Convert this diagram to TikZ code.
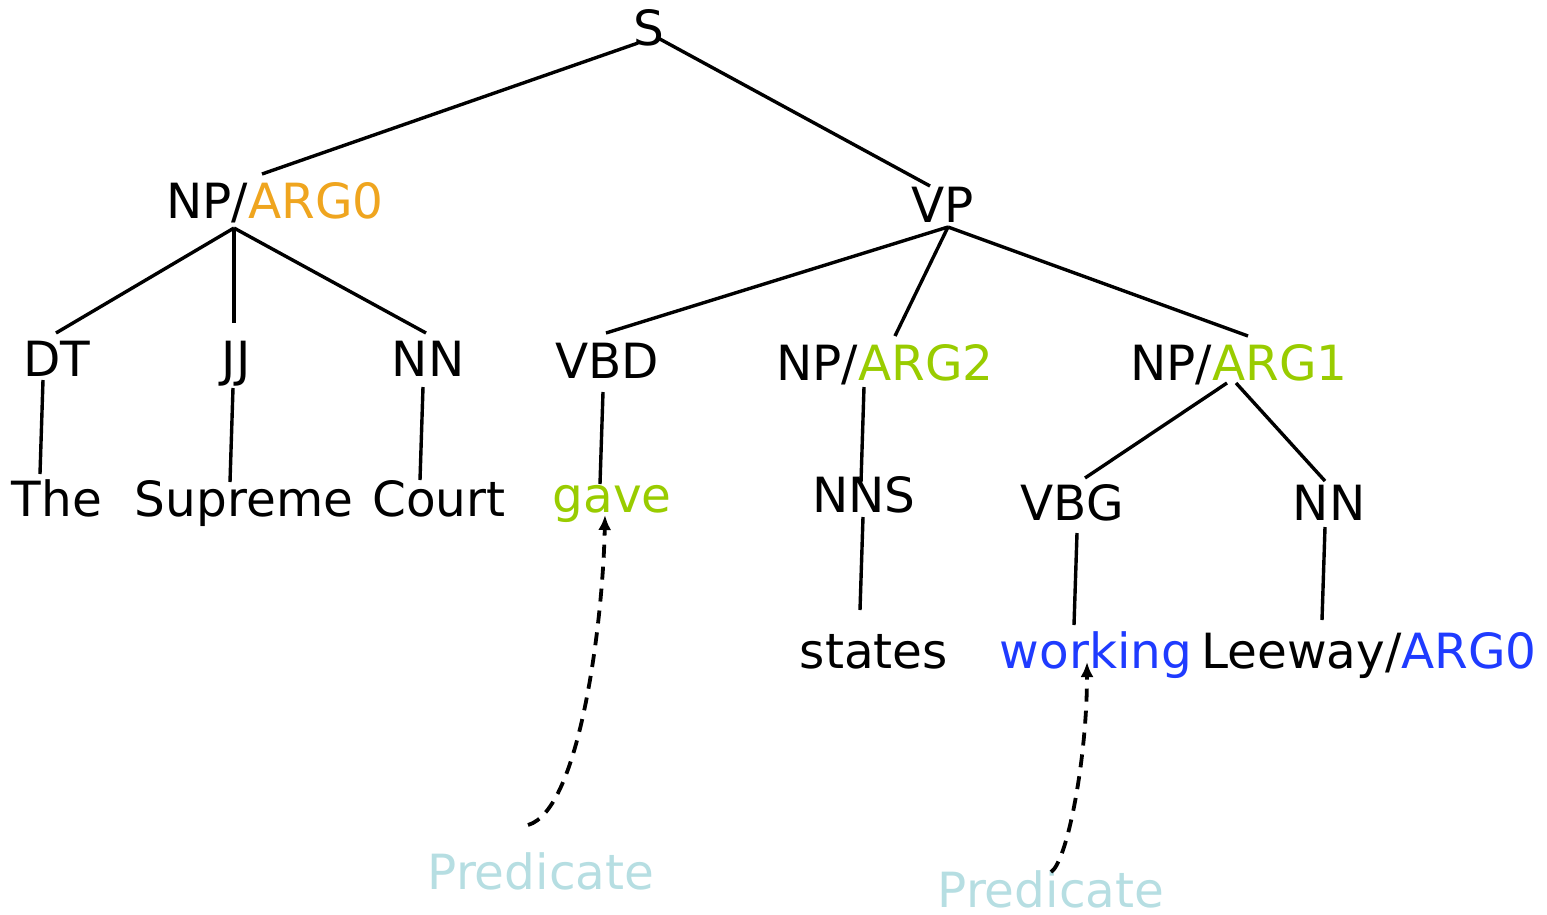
\documentclass[tikz,border=0pt]{standalone}
\usepackage{fontspec}
\setmainfont{DejaVu Sans}
\usetikzlibrary{calc}
\usetikzlibrary{arrows.meta}
\definecolor{argorange}{HTML}{EFA51F}
\definecolor{arggreen}{HTML}{99CC00}
\definecolor{argblue}{HTML}{1F3BFF}
\definecolor{predcyan}{HTML}{B6DEE2}
\begin{document}
\begin{tikzpicture}[x=1pt,y=-1pt,line width=3.4pt,
    every node/.style={font=\fontsize{48.5}{58}\selectfont,inner sep=0pt,anchor=base},
    predarrow/.style={line width=3.8pt,dash pattern=on 13pt off 9pt,-{Latex[length=15pt,width=13pt]}}]
    \useasboundingbox (0,0) rectangle (1547,914);
    \node (s) at (649,45) {S};
    \node (np0) at (275,218) {NP/\textcolor{argorange}{ARG0}};
    \node (vp) at (943,222) {VP};
    \node (dt) at (57,376) {DT};
    \node (jj) at (236,376) {JJ};
    \node (nn) at (428,376) {NN};
    \node (vbd) at (607,378) {VBD};
    \node (np2) at (885,380) {NP/\textcolor{arggreen}{ARG2}};
    \node (np1) at (1239,380) {NP/\textcolor{arggreen}{ARG1}};
    \node (the) at (57,516) {The};
    \node (supreme) at (244,516) {Supreme};
    \node (court) at (439,516) {Court};
    \node[text=arggreen] (gave) at (612,512) {gave};
    \node (nns) at (864,512) {NNS};
    \node (vbg) at (1072,520) {VBG};
    \node (nnb) at (1329,520) {NN};
    \node (states) at (874,668) {states};
    \node[text=argblue] (working) at (1096,668) {working};
    \node (leeway) at (1369,668) {Leeway/\textcolor{argblue}{ARG0}};
    \node[text=predcyan] (pred1) at (541,889) {Predicate};
    \node[text=predcyan] (pred2) at (1051,907) {Predicate};

    \draw ($(s.base)+(-11,-2)$) --($(np0.base)+(-13,-44)$);
    \draw ($(s.base)+(9,-7)$) --($(vp.base)+(-13,-36)$);
    \draw ($(np0.base)+(-41,10)$) --($(dt.base)+(-1,-43)$);
    \draw ($(np0.base)+(-41,10)$) --($(jj.base)+(-2,-53)$);
    \draw ($(np0.base)+(-41,10)$) --($(nn.base)+(-2,-43)$);
    \draw ($(vp.base)+(5,5)$) --($(vbd.base)+(-1,-45)$);
    \draw ($(vp.base)+(5,5)$) --($(np2.base)+(10,-44)$);
    \draw ($(vp.base)+(5,5)$) --($(np1.base)+(9,-44)$);
    \draw ($(np2.base)+(-21,7)$) --($(nns.base)+(-3,-30)$);
    \draw ($(np1.base)+(-12,3)$) --($(vbg.base)+(13,-42)$);
    \draw ($(np1.base)+(-3,3)$) --($(nnb.base)+(-4,-39)$);
    \draw ($(dt.base)+(-14,4)$) --($(the.base)+(-17,-42)$);
    \draw ($(jj.base)+(-3,12)$) --($(supreme.base)+(-14,-34)$);
    \draw ($(nn.base)+(-5,11)$) --($(court.base)+(-19,-36)$);
    \draw ($(vbd.base)+(-4,14)$) --($(gave.base)+(-12,-28)$);
    \draw ($(nns.base)+(-1,5)$) --($(states.base)+(-14,-58)$);
    \draw ($(vbg.base)+(5,13)$) --($(working.base)+(-22,-43)$);
    \draw ($(nnb.base)+(-4,7)$) --($(leeway.base)+(-47,-48)$);

    \draw[predarrow] ($(pred1.base)+(-13,-64)$) .. controls +(52,-15) and +(-2,105) .. ($(gave.base)+(-7,3)$);
    \draw[predarrow] ($(pred2.base)+(0,-35)$) .. controls +(16,-10) and +(0,98) .. ($(working.base)+(-9,-6)$);
\end{tikzpicture}
\end{document}
